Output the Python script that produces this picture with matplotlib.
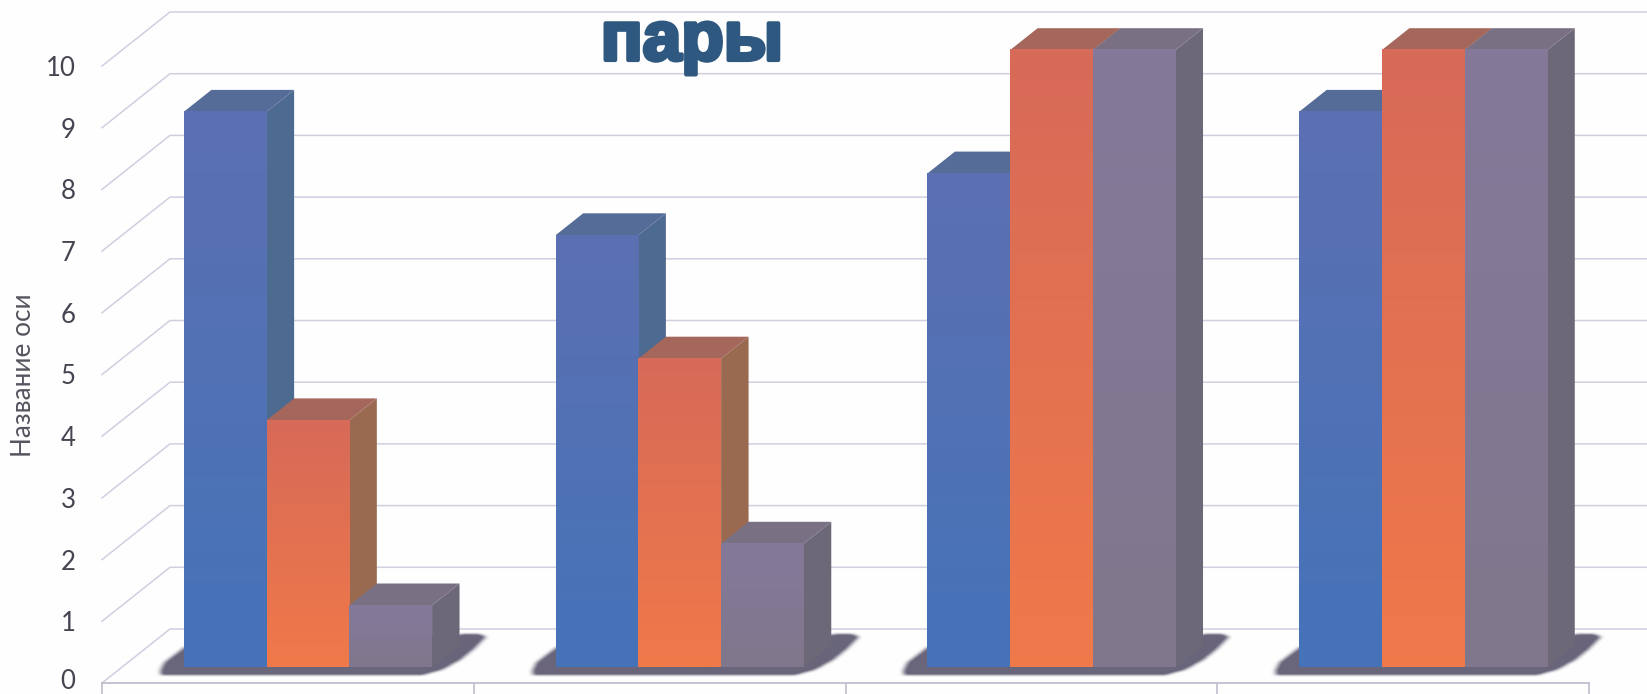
import numpy as np
import matplotlib.pyplot as plt
import matplotlib.patheffects as pe
from matplotlib.colors import LinearSegmentedColormap, to_rgb
from matplotlib.path import Path
from matplotlib.transforms import ScaledTranslation

W, H = 1647, 694

categories = ['1', '2', '3', '4']
blue = [9, 7, 8, 9]
orange = [4, 5, 10, 10]
grey = [1, 2, 10, 10]
yticks = list(range(11))

# top, bottom of front face, then side and top colours
styles = [
    ('#5b70b2', '#4673b8', '#4d6a90', '#566c98'),
    ('#d76a58', '#f0794a', '#9a6a50', '#a5675c'),
    ('#85799a', '#80778c', '#6d6878', '#7a7084'),
]

plt.rcParams['font.family'] = ['Lato', 'DejaVu Sans']
fig = plt.figure(figsize=(W / 100, H / 100), dpi=100, facecolor='#fefefe')
# axes is the front plane of the 3d box: x 102..1589, y 683..66 px
ax = fig.add_axes([102 / W, (H - 683) / H, (1589 - 102) / W, (683 - 66) / H])
ax.set_facecolor('none')
ax.set_xlim(0, 4)
ax.set_ylim(0, 10)

px = 4 / (1589 - 102)   # one pixel in x units
py = 10 / (683 - 66)    # one pixel in y units
depth_x = 68 * px
depth_y = 54 * py
grid_c = '#cfcfe0'

for v in yticks:
    ax.plot([0, depth_x, 4 + depth_x + 0.1], [v, v + depth_y, v + depth_y],
            color=grid_c, lw=1.1, clip_on=False, zorder=1)

bar_w = 82.7 * px
d0, d1 = 0.296, 0.70

# shadow on the floor: polygon mask in pixels, blurred, used as alpha
shadow_x = np.array([-24, -20, -8, 0, 276, 296, 301, 292, 276, 258, 236, -24])
shadow_y = np.array([-5, 4, 13, 19, 32, 32, 30, 20, 7, -3, -9, -9])
gx, gy = np.meshgrid(np.arange(-50, 330), np.arange(-30, 60))
mask = Path(np.column_stack([shadow_x, shadow_y])).contains_points(
    np.column_stack([gx.ravel(), gy.ravel()])).reshape(gx.shape).astype(float)
kernel = np.hanning(15)
kernel /= kernel.sum()
mask = np.apply_along_axis(lambda r: np.convolve(r, kernel, mode='same'), 1, mask)
kernel = np.hanning(7)
kernel /= kernel.sum()
mask = np.apply_along_axis(lambda r: np.convolve(r, kernel, mode='same'), 0, mask)
shadow = np.zeros(mask.shape + (4,))
shadow[..., :3] = to_rgb('#6a657a')
shadow[..., 3] = np.clip(mask * 1.15, 0, 1)
for g in range(len(categories)):
    sx = g + 0.5 - 1.5 * bar_w + d0 * depth_x
    sy = d0 * depth_y
    ax.imshow(shadow, origin='lower', aspect='auto', clip_on=False, zorder=2,
              extent=[sx - 50 * px, sx + 330 * px, sy - 30 * py, sy + 60 * py])

cmaps = [LinearSegmentedColormap.from_list('f', s[:2]) for s in styles]
grad = np.linspace(0, 1, 64).reshape(-1, 1)

z = 3
for g in range(len(categories)):
    for j, vals in enumerate([blue, orange, grey]):
        v = vals[g]
        x0 = g + 0.5 + (j - 1.5) * bar_w + d0 * depth_x
        x1 = x0 + bar_w
        y0 = d0 * depth_y
        y1 = y0 + v
        dx = (d1 - d0) * depth_x
        dy = (d1 - d0) * depth_y
        ax.fill([x1, x1 + dx, x1 + dx, x1], [y0, y0 + dy, y1 + dy, y1],
                color=styles[j][2], lw=0, clip_on=False, zorder=z)
        ax.fill([x0, x1, x1 + dx, x0 + dx], [y1, y1, y1 + dy, y1 + dy],
                color=styles[j][3], lw=0, clip_on=False, zorder=z)
        ax.imshow(grad, cmap=cmaps[j], extent=[x0, x1, y0, y1], aspect='auto',
                  origin='upper', clip_on=False, zorder=z + 0.5)
        z += 1
ax.set_xlim(0, 4)
ax.set_ylim(0, 10)

ax.set_xticks(range(5))
ax.set_xticklabels([])
ax.set_yticks(yticks)
ax.tick_params(axis='x', length=8, width=1.1, color='#b9b9ca', direction='out')
ax.tick_params(axis='y', length=0, pad=19, labelsize=18.5, labelcolor='#454552')
for name in ['top', 'right', 'left']:
    ax.spines[name].set_visible(False)
ax.spines['bottom'].set_color('#b9b9ca')
ax.spines['bottom'].set_linewidth(1.2)

# the 0 sits right at the bottom edge, lift it so it is not cut
zero = ax.get_yticklabels()[0]
zero.set_transform(zero.get_transform() + ScaledTranslation(0, 3 / 72, fig.dpi_scale_trans))

fig.text(24 / W, 1 - 375 / H, 'Название оси', rotation=90, color='#55555f',
         fontsize=18.8, ha='center', va='center')

t = fig.text(692 / W, 1 - 60 / H, 'пары', color='#2f5880', fontsize=50,
             fontweight='bold', family=['Liberation Sans', 'DejaVu Sans'],
             ha='center', va='baseline')
t.set_path_effects([pe.withStroke(linewidth=3, foreground='#2f5880')])

plt.savefig('out.png', dpi=100, facecolor=fig.get_facecolor())
